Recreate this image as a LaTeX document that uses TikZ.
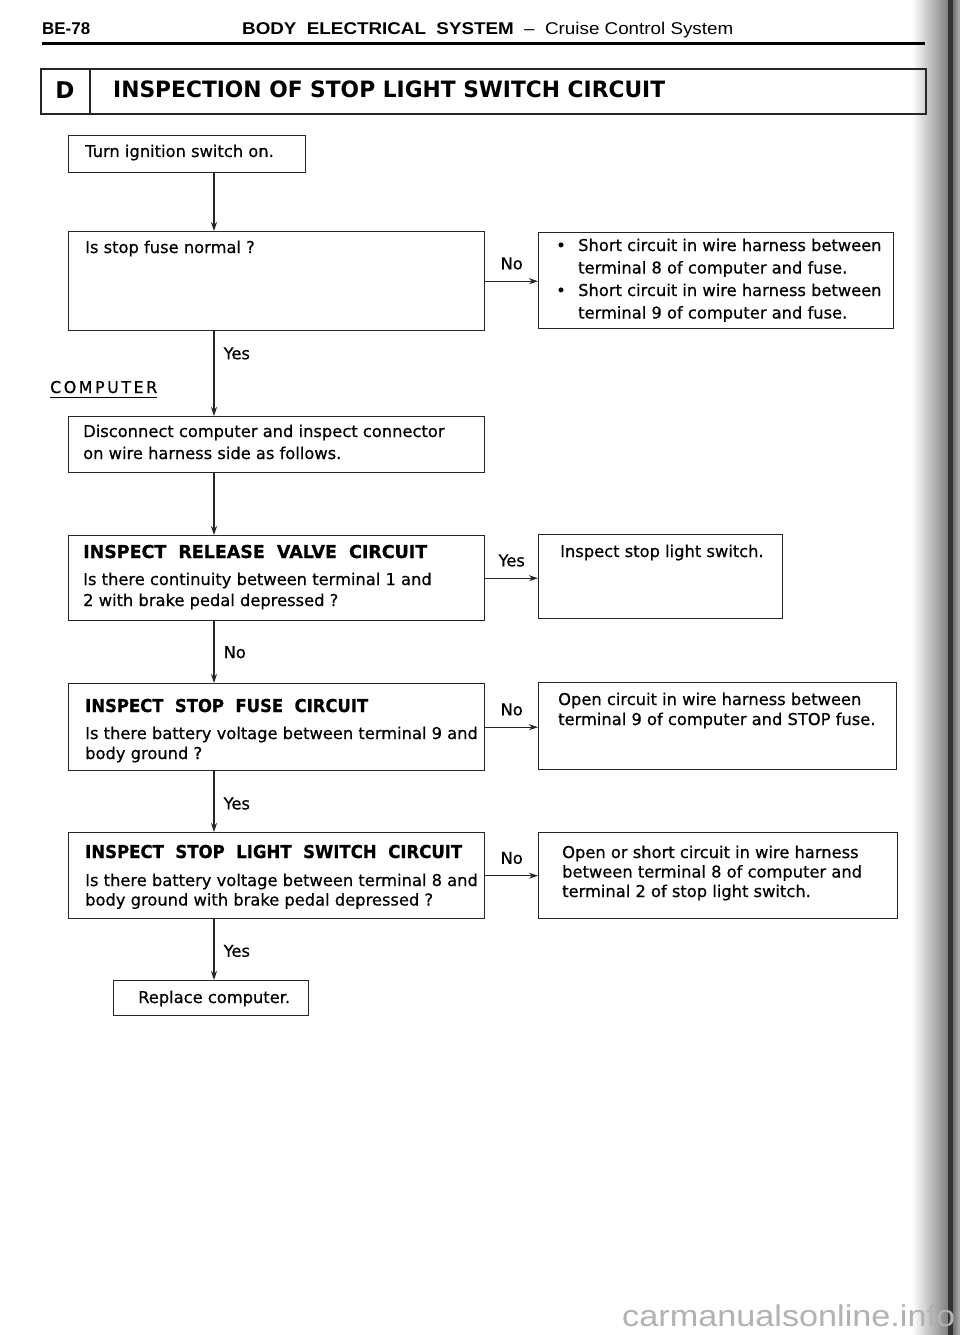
\documentclass[tikz,border=0pt]{standalone}
\usepackage{fontspec}
\usepackage{graphicx}
\setmainfont{DejaVu Sans}
\newfontfamily\bodyfont[FakeBold=0.6]{DejaVu Sans}
\newfontfamily\condfont[FakeStretch=0.8]{Liberation Sans}
\newfontfamily\wmfont{Liberation Sans}
\usetikzlibrary{arrows.meta}
\newcommand{\hfit}[2]{\resizebox{#1}{\height}{#2}}
\newcommand{\lns}[2]{{\bodyfont\fontsize{16.3}{#1}\selectfont\begin{tabular}[t]{@{}l@{}}#2\end{tabular}}}
\newcommand{\ttl}[2]{\hfit{#1}{\fontsize{17.8}{20}\selectfont\bfseries #2}}
\begin{document}
\begin{tikzpicture}[x=1pt,y=-1pt,
  box/.style={draw=black!85, line width=1.4pt, rectangle, inner sep=0pt, anchor=north west},
  txt/.style={anchor=base west, inner sep=0pt, font=\bodyfont\fontsize{16.3}{22}\selectfont},
  arr/.style={draw=black!85, line width=1.3pt, -{Stealth[length=9pt,width=6pt]}},
  vlab/.style={anchor=west, inner sep=0pt, xshift=9pt, font=\bodyfont\fontsize{16.3}{20}\selectfont},
  hlab/.style={midway, anchor=south, inner sep=0pt, yshift=11pt, font=\bodyfont\fontsize{16.3}{20}\selectfont}]
\useasboundingbox (0,0) rectangle (960,1335);
\fill[white] (0,0) rectangle (960,1335);
% binding shade at the right edge
\shade[left color=white, right color=black!50] (912,0) rectangle (948,1335);
\fill[black!80] (948,0) rectangle (953,1335);
\shade[left color=black!55, right color=black!30] (953,0) rectangle (960,1335);

% page header
\node[anchor=base west, inner sep=0pt] (pg) at (42,35) {\hfit{48pt}{\condfont\bfseries\fontsize{17}{17}\selectfont BE-78}};
\node[anchor=base west, inner sep=0pt] (hd) at (242,35) {\hfit{491pt}{\condfont\fontsize{17}{17}\selectfont\textbf{BODY\ \ ELECTRICAL\ \ SYSTEM}\ \ –\ \ Cruise Control System}};
\draw[line width=3pt] (42,44) -- (925,44);

% section title
\node[box, line width=1.8pt, minimum width=885pt, minimum height=45pt] (dbox) at (40,68) {};
\draw[line width=1.8pt, draw=black!85] (dbox.north west -| 90,0) -- (dbox.south west -| 90,0);
\node[inner sep=0pt, anchor=base] (dl) at (65,99) {\fontsize{23}{23}\selectfont\bfseries D};
\node[anchor=base west, inner sep=0pt] (dt) at (113,98) {\hfit{552pt}{\fontsize{22.5}{22}\selectfont\bfseries INSPECTION OF STOP LIGHT SWITCH CIRCUIT}};

% left column boxes
\node[box, minimum width=237pt, minimum height=37pt] (b1) at (68,135) {};
\node[box, minimum width=416pt, minimum height=99pt] (b2) at (68,231) {};
\node[box, minimum width=416pt, minimum height=56pt] (b3) at (68,416) {};
\node[box, minimum width=416pt, minimum height=85pt] (b4) at (68,535) {};
\node[box, minimum width=416pt, minimum height=87pt] (b5) at (68,683) {};
\node[box, minimum width=416pt, minimum height=86pt] (b6) at (68,832) {};
\node[box, minimum width=195pt, minimum height=35pt] (b7) at (113,980) {};

% right column boxes
\node[box, minimum width=355pt, minimum height=96pt] (r1) at (538,232) {};
\node[box, minimum width=244pt, minimum height=84pt] (r2) at (538,534) {};
\node[box, minimum width=358pt, minimum height=87pt] (r3) at (538,682) {};
\node[box, minimum width=359pt, minimum height=86pt] (r4) at (538,832) {};

% texts
\node[txt] (t1) at (85,157) {Turn ignition switch on.};
\node[txt] (t2) at (85,253) {Is stop fuse normal ?};
\node[txt] (tr1) at (556,251) {{\bodyfont\fontsize{16.3}{22.5}\selectfont\begin{tabular}[t]{@{}l@{}l@{}}
\makebox[22pt][l]{\textbullet} & Short circuit in wire harness between\\
 & terminal 8 of computer and fuse.\\
\makebox[22pt][l]{\textbullet} & Short circuit in wire harness between\\
 & terminal 9 of computer and fuse.\end{tabular}}};
\node[txt] (t3) at (83,437) {\lns{22}{Disconnect computer and inspect connector\\on wire harness side as follows.}};
\node[txt] (t4h) at (83,558) {\ttl{344pt}{INSPECT\ \ RELEASE\ \ VALVE\ \ CIRCUIT}};
\node[txt] (t4) at (83,585) {\lns{21}{Is there continuity between terminal 1 and\\2 with brake pedal depressed ?}};
\node[txt] (tr2) at (560,557) {Inspect stop light switch.};
\node[txt] (t5h) at (85,712) {\ttl{283pt}{INSPECT\ \ STOP\ \ FUSE\ \ CIRCUIT}};
\node[txt] (t5) at (85,739) {\lns{20}{Is there battery voltage between terminal 9 and\\body ground ?}};
\node[txt] (tr3) at (558,705) {\lns{20}{Open circuit in wire harness between\\terminal 9 of computer and STOP fuse.}};
\node[txt] (t6h) at (85,858) {\ttl{377pt}{INSPECT\ \ STOP\ \ LIGHT\ \ SWITCH\ \ CIRCUIT}};
\node[txt] (t6) at (85,886) {\lns{19.5}{Is there battery voltage between terminal 8 and\\body ground with brake pedal depressed ?}};
\node[txt] (tr4) at (562,858) {\lns{19.5}{Open or short circuit in wire harness\\between terminal 8 of computer and\\terminal 2 of stop light switch.}};
\node[txt] (t7) at (138,1003) {Replace computer.};

% COMPUTER label
\node[anchor=base west, inner sep=0pt] (comp) at (50,393) {\hfit{107pt}{\bodyfont\fontsize{16.3}{20}\selectfont C\,O\,M\,P\,U\,T\,E\,R}};
\draw[line width=1pt] ([yshift=-4pt]comp.south west) -- ([yshift=-4pt]comp.south east);

% connectors
\coordinate (sp) at (214,0);
\draw[arr] (b1.south -| sp) -- (b2.north -| sp);
\draw[arr] (b2.south -| sp) -- node[vlab, pos=0.26]{Yes} (b3.north -| sp);
\draw[arr] (b3.south -| sp) -- (b4.north -| sp);
\draw[arr] (b4.south -| sp) -- node[vlab, pos=0.5]{No} (b5.north -| sp);
\draw[arr] (b5.south -| sp) -- node[vlab, pos=0.53]{Yes} (b6.north -| sp);
\draw[arr] (b6.south -| sp) -- node[vlab, pos=0.52]{Yes} (b7.north -| sp);
\draw[arr] (b2.east) -- node[hlab]{No} (b2.east -| r1.west);
\draw[arr] (b4.east) -- node[hlab]{Yes} (b4.east -| r2.west);
\draw[arr] (b5.east) -- node[hlab]{No} (b5.east -| r3.west);
\draw[arr] (b6.east) -- node[hlab]{No} (b6.east -| r4.west);

% watermark
\node[anchor=base west, inner sep=0pt, text=black!30] (wm) at (622,1326) {\hfit{333pt}{\wmfont\fontsize{30}{30}\selectfont carmanualsonline.info}};
\end{tikzpicture}
\end{document}
